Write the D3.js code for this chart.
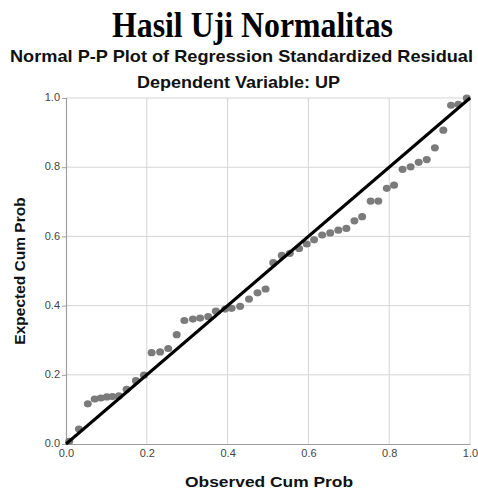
<!DOCTYPE html>
<html>
<head>
<meta charset="utf-8">
<script src="https://cdn.jsdelivr.net/npm/d3@7"></script>
<style>
  html, body { margin: 0; padding: 0; background: #fff; }
  svg { display: block; }
</style>
</head>
<body>
<svg id="chart" width="478" height="492"></svg>
<script>
// ---- data ----
const titleText = "Hasil Uji Normalitas";
const subtitleText = "Normal P-P Plot of Regression Standardized Residual";
const depVarText = "Dependent Variable: UP";
const xLabel = "Observed Cum Prob";
const yLabel = "Expected Cum Prob";
const tickValues = [0, 0.2, 0.4, 0.6, 0.8, 1.0];

const observed = [0.008, 0.032, 0.054, 0.071, 0.086, 0.101, 0.115, 0.131, 0.150, 0.173,
  0.193, 0.212, 0.233, 0.253, 0.274, 0.293, 0.314, 0.332, 0.352, 0.371,
  0.394, 0.410, 0.431, 0.453, 0.474, 0.494, 0.513, 0.534, 0.554, 0.577,
  0.596, 0.614, 0.634, 0.654, 0.674, 0.694, 0.714, 0.733, 0.754, 0.773,
  0.794, 0.812, 0.833, 0.853, 0.873, 0.893, 0.913, 0.934, 0.953, 0.971, 0.992];
const expected = [0.008, 0.043, 0.116, 0.130, 0.133, 0.136, 0.137, 0.139, 0.158, 0.183,
  0.199, 0.264, 0.266, 0.276, 0.316, 0.357, 0.361, 0.364, 0.368, 0.384,
  0.390, 0.392, 0.398, 0.419, 0.437, 0.448, 0.524, 0.545, 0.551, 0.565,
  0.578, 0.590, 0.604, 0.610, 0.618, 0.623, 0.645, 0.657, 0.702, 0.702,
  0.739, 0.748, 0.794, 0.801, 0.814, 0.822, 0.856, 0.907, 0.979, 0.982, 1.0];

// ---- layout ----
const svg = d3.select("#chart");
const plot = { left: 66, right: 470, top: 98, bottom: 444 };
const x = d3.scaleLinear().domain([0, 1]).range([plot.left, plot.right]);
const y = d3.scaleLinear().domain([0, 1]).range([plot.bottom, plot.top]);
const sans = "'Liberation Sans', Arial, sans-serif";

// titles
svg.append("text").attr("x", 252.5).attr("y", 37).attr("text-anchor", "middle")
  .style("font-family", "'Liberation Serif', 'Times New Roman', serif")
  .style("font-weight", "bold").style("font-size", "35px").attr("fill", "#000")
  .attr("textLength", 281).attr("lengthAdjust", "spacingAndGlyphs")
  .text(titleText);
svg.append("text").attr("x", 241.5).attr("y", 62).attr("text-anchor", "middle")
  .style("font-family", sans)
  .style("font-weight", "bold").style("font-size", "17px").attr("fill", "#111")
  .attr("textLength", 463).attr("lengthAdjust", "spacingAndGlyphs")
  .text(subtitleText);
svg.append("text").attr("x", 238.5).attr("y", 88).attr("text-anchor", "middle")
  .style("font-family", sans)
  .style("font-weight", "bold").style("font-size", "16px").attr("fill", "#111")
  .attr("textLength", 203).attr("lengthAdjust", "spacingAndGlyphs")
  .text(depVarText);

// grid
const grid = svg.append("g");
grid.selectAll("line.v").data(tickValues.slice(1)).enter().append("line")
  .attr("x1", d => x(d)).attr("x2", d => x(d))
  .attr("y1", plot.top).attr("y2", plot.bottom)
  .attr("stroke", "#d4d4d4").attr("stroke-width", 1);
grid.selectAll("line.h").data(tickValues.slice(1)).enter().append("line")
  .attr("x1", plot.left).attr("x2", plot.right)
  .attr("y1", d => y(d)).attr("y2", d => y(d))
  .attr("stroke", "#d4d4d4").attr("stroke-width", 1);

// axes
const xAxis = d3.axisBottom(x).tickValues(tickValues).tickFormat(d3.format(".1f")).tickSize(0).tickPadding(7);
const yAxis = d3.axisLeft(y).tickValues(tickValues).tickFormat(d3.format(".1f")).tickSize(4).tickPadding(2);
const gx = svg.append("g").attr("transform", `translate(0,${plot.bottom})`).call(xAxis);
const gy = svg.append("g").attr("transform", `translate(${plot.left},0)`).call(yAxis);
[gx, gy].forEach(g => {
  g.select(".domain").attr("stroke", "#a0a0a0").attr("stroke-width", 1.2);
  g.selectAll(".tick line").attr("stroke", "#a0a0a0");
  g.selectAll("text").style("font-family", sans)
    .style("font-size", "11px").attr("fill", "#444");
});
gy.selectAll(".tick text").attr("dy", "0.25em");
gx.selectAll(".tick text").attr("dy", "0.55em");

// points
svg.append("g").selectAll("ellipse").data(observed).enter().append("ellipse")
  .attr("cx", (d) => x(d)).attr("cy", (d, i) => y(expected[i]))
  .attr("rx", 4).attr("ry", 3.6).attr("fill", "#7b7b7b");

// diagonal reference line
svg.append("line").attr("x1", x(0)).attr("y1", y(0)).attr("x2", x(1)).attr("y2", y(1))
  .attr("stroke", "#000").attr("stroke-width", 3);

// axis labels
svg.append("text").attr("x", 269).attr("y", 487).attr("text-anchor", "middle")
  .style("font-family", sans)
  .style("font-weight", "bold").style("font-size", "15.5px").attr("fill", "#111")
  .attr("textLength", 168).attr("lengthAdjust", "spacingAndGlyphs")
  .text(xLabel);
svg.append("text").attr("transform", `translate(25,${(plot.top + plot.bottom) / 2}) rotate(-90)`)
  .attr("text-anchor", "middle")
  .style("font-family", sans)
  .style("font-weight", "bold").style("font-size", "15.5px").attr("fill", "#111")
  .text(yLabel);
</script>
</body>
</html>
